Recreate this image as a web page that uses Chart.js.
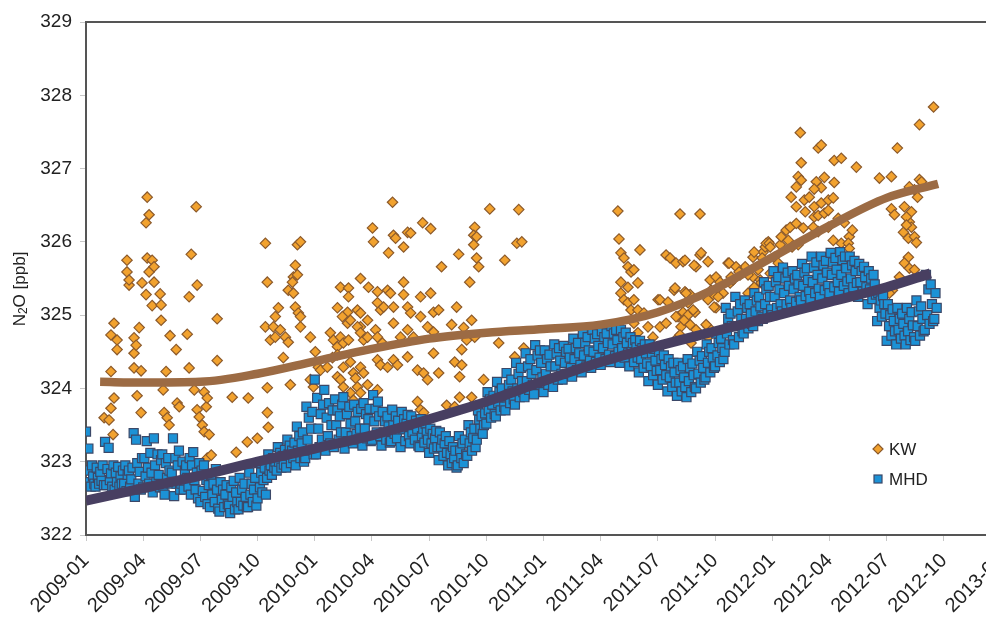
<!DOCTYPE html>
<html>
<head>
<meta charset="utf-8">
<script src="https://cdn.jsdelivr.net/npm/chart.js@4/dist/chart.umd.min.js"></script>
<style>
  html, body { margin: 0; padding: 0; background: #fff; overflow: hidden; width: 986px; height: 620px; }
  #wrap { position: absolute; left: 0; top: 0; width: 1026px; height: 620px; }
</style>
</head>
<body>
<div id="wrap"><canvas id="c" width="1026" height="620"></canvas></div>
<script>
// Quarter tick labels along the time axis (months since 2009-01, step 3)
const xTickLabels = ['2009-01','2009-04','2009-07','2009-10','2010-01','2010-04','2010-07','2010-10',
  '2011-01','2011-04','2011-07','2011-10','2012-01','2012-04','2012-07','2012-10','2013-01'];

// KW samples: [months since 2009-01, N2O ppb]
const kwPoints = [
  [0.95,323.60],[1.21,323.57],[1.31,324.23],[1.31,323.73],[1.31,324.73],[1.42,323.37],[1.47,324.89],[1.47,323.87],
  [1.63,324.66],[1.63,324.53],[2.15,325.75],[2.15,325.59],[2.26,325.41],[2.26,325.48],[2.52,324.69],[2.52,324.48],
  [2.52,324.28],[2.63,324.59],[2.68,323.90],[2.79,324.83],[2.89,323.67],[2.89,324.24],[2.94,325.44],[3.15,326.26],
  [3.15,325.28],[3.21,326.61],[3.21,325.78],[3.31,326.37],[3.31,325.59],[3.47,325.75],[3.47,325.13],[3.57,325.66],
  [3.57,325.45],[3.89,325.29],[3.94,325.14],[3.94,324.93],[4.05,323.98],[4.10,323.67],[4.20,324.23],[4.26,323.60],
  [4.36,323.50],[4.41,324.72],[4.73,324.53],[4.78,323.80],[4.89,323.75],[5.31,324.74],[5.41,325.25],[5.41,324.28],
  [5.52,325.83],[5.68,323.98],[5.78,326.48],[5.83,325.41],[5.83,323.71],[5.94,323.61],[6.10,323.50],[6.20,323.95],
  [6.20,323.41],[6.31,323.75],[6.36,323.87],[6.36,323.05],[6.46,323.37],[6.57,323.09],[6.62,322.75],[6.88,324.95],
  [6.88,324.38],[7.67,323.88],[7.88,323.13],[8.46,323.27],[8.51,323.87],[8.99,323.32],
  [16.08,326.54],[15.03,326.19],[15.08,326.00],[16.13,326.09],[16.24,326.05],[16.87,326.13],[17.03,326.12],[17.66,326.26],
  [18.08,326.18],[16.66,325.93],[15.87,325.85],[9.41,325.98],[11.09,325.96],[11.25,326.00],[9.51,325.45],[10.98,325.68],
  [10.88,325.52],[10.83,325.45],[11.09,325.55],[10.61,325.34],[10.88,325.30],[10.09,325.10],[9.93,324.98],[10.98,325.11],
  [11.14,325.03],[11.25,324.98],[9.41,324.84],[9.83,324.84],[10.19,324.80],[10.46,324.70],[10.61,324.63],[9.67,324.66],
  [9.93,324.70],[11.25,324.84],[11.77,324.70],[10.35,324.42],[9.51,324.01],[10.72,324.05],[9.51,323.67],[9.56,323.47],
  [13.35,325.38],[13.77,325.37],[13.77,325.25],[14.40,325.50],[14.82,325.38],[15.29,325.32],[15.82,325.34],[15.97,325.30],
  [16.66,325.45],[17.55,325.25],[18.08,325.30],[13.19,325.10],[13.72,325.04],[14.24,325.07],[13.45,324.98],[13.72,324.89],
  [13.87,324.93],[14.40,325.03],[14.77,324.93],[14.40,324.84],[15.29,325.17],[15.45,325.07],[15.61,325.11],[16.13,325.11],
  [16.66,325.28],[16.87,325.11],[17.03,325.03],[17.55,324.98],[18.23,325.04],
  [12.82,324.76],[12.98,324.66],[13.19,324.57],[13.35,324.70],[13.50,324.62],[13.77,324.66],[14.24,324.84],[14.40,324.76],
  [14.56,324.66],[14.77,324.70],[15.19,324.80],[15.29,324.70],[15.55,324.62],[16.13,324.89],[16.50,324.70],[16.87,324.80],
  [17.18,324.70],[17.92,324.84],[18.23,324.77],
  [12.03,324.50],[12.19,324.29],[12.30,324.25],[12.66,324.29],[12.93,324.42],[13.19,324.46],[13.50,324.29],[13.87,324.36],
  [14.03,324.21],[14.40,324.29],[14.56,324.21],[15.29,324.39],[15.45,324.32],[15.82,324.29],[16.13,324.39],[16.34,324.32],
  [16.87,324.43],[17.39,324.25],[17.71,324.21],[17.92,324.12],[18.23,324.48],
  [11.77,324.12],[11.93,324.02],[13.19,324.16],[13.35,324.12],[13.50,324.02],[14.14,324.14],[14.24,324.02],[14.40,323.94],
  [14.77,324.05],[15.29,323.98],[13.87,323.94],[14.03,323.84],[17.39,323.82],[17.55,323.71],[17.71,323.67],
  [21.18,326.45],[22.70,326.44],[20.39,326.20],[20.34,326.09],[20.49,326.07],[20.34,325.96],[19.55,325.83],[18.65,325.66],
  [20.49,325.78],[20.60,325.66],[21.97,325.75],[22.60,325.98],[22.86,326.00],[20.13,325.45],[19.44,325.11],[19.18,324.87],
  [19.81,324.83],[20.23,324.93],[19.97,324.66],[20.39,324.70],[19.71,324.53],[21.65,324.62],[19.34,324.36],[19.71,324.32],
  [19.60,324.16],[18.50,324.21],[20.86,324.12],[22.49,324.43],[22.96,324.55],[19.60,323.88],[20.23,323.88],[18.92,323.77],
  [19.34,323.75],[18.50,325.07],
  [27.90,326.42],[27.96,326.04],[29.06,325.89],[28.06,325.85],[28.22,325.78],[28.43,325.66],[28.59,325.59],[28.74,325.62],
  [28.06,325.45],[28.43,325.38],[28.95,325.44],[28.06,325.30],[28.22,325.21],[28.43,325.17],[28.74,325.21],[28.59,325.07],
  [28.95,325.07],[29.27,325.03],[28.74,324.89],[28.95,324.76],[29.48,324.84],[30.43,325.82],[30.64,325.78],[30.95,325.71],
  [31.32,325.73],[31.42,325.75],[30.01,325.21],[30.85,325.34],[31.06,324.98],[31.21,324.84],[31.06,324.70],[31.16,326.38],
  [32.21,326.38],[32.21,325.82],[32.63,325.73],[32.00,325.66],[33.68,325.71],[34.99,325.79],[35.52,325.86],[35.79,326.00],
  [35.63,325.93],[36.42,325.96],[36.73,326.16],[36.94,326.20],[36.99,326.61],
  [30.90,325.37],[31.42,325.32],[31.69,325.28],[30.11,325.21],[30.53,325.18],[30.95,324.98],[31.32,325.04],[31.58,325.00],
  [31.95,325.04],[30.11,324.84],[30.43,324.89],[31.69,324.87],[32.63,324.84],[33.05,325.10],[32.90,325.28],[33.42,325.30],
  [33.79,325.44],[29.74,324.70],[31.16,324.73],
  [32.74,325.48],[33.05,325.52],[33.26,325.45],[33.95,325.48],[34.31,325.55],[34.58,325.66],[34.99,325.52],[35.37,325.48],
  [35.89,325.57],[31.90,325.68],[32.27,325.85],[33.74,325.71],[34.10,325.66],[34.26,325.59],[35.68,325.98],[36.10,325.79],
  [36.31,325.71],[31.48,325.30],[31.58,325.17],[31.85,325.07],[32.63,325.21],[32.95,325.11],[32.79,325.34],[33.16,325.25],
  [33.84,325.52],[34.73,325.55],[35.26,325.62],[31.37,324.93],[32.00,324.80],[32.53,324.87],[31.74,324.62],[32.63,324.70],
  [35.05,325.38],[34.73,325.30],[35.42,325.44],
  [37.47,327.49],[38.41,327.28],[38.57,327.32],[37.52,327.08],[39.25,327.11],[39.62,327.14],[40.41,327.02],[37.36,326.89],
  [37.52,326.84],[37.26,326.75],[38.31,326.82],[38.57,326.74],[38.20,326.72],[38.73,326.88],[39.25,326.81],[37.68,326.57],
  [37.94,326.61],[38.20,326.48],[38.57,326.53],[38.94,326.57],[39.20,326.60],[37.26,326.48],[37.73,326.41],[38.20,326.34],
  [38.41,326.36],[38.73,326.39],[38.94,326.43],[39.46,326.32],[39.78,326.26],[37.26,326.25],[37.63,326.19],[38.15,326.20],
  [38.41,326.14],[38.94,326.20],[39.20,326.02],[39.62,325.98],[40.04,326.07],[36.47,326.07],[36.84,326.02],[37.04,325.93],
  [37.36,325.96],[35.84,325.98],[35.89,325.93],[35.05,325.86],[35.47,325.78],[39.99,325.98],[40.04,325.91],[40.20,326.16],
  [41.62,326.87],[42.25,326.89],[42.56,327.28],[43.72,327.60],[44.46,327.84],[43.72,326.85],[43.19,326.75],[43.46,326.71],
  [42.25,326.45],[42.93,326.48],[43.30,326.41],[42.41,326.37],[43.19,326.27],[43.30,326.20],[42.88,326.13],[43.14,326.05],
  [43.46,326.07],[43.56,325.99],[43.14,325.79],[42.93,325.71],[43.19,325.64],[43.46,325.62],[42.67,325.52],[42.30,325.34],
  [42.14,325.30],[43.83,326.82],[43.62,326.61],[43.04,326.34],[43.04,326.23]
];

// MHD samples: one row per half month starting 2009-01, readings every 1/16 month
const mhdRows = [
  [323.41,322.72,323.18,322.88,322.66,322.95,322.80,322.70],[322.66,322.92,322.78,322.70,322.86,322.74,322.95,322.68],
  [323.27,322.68,322.90,323.19,322.75,322.84,322.66,322.95],[322.62,322.85,322.72,322.93,322.66,322.80,322.70,322.88],
  [322.70,322.95,322.60,322.82,322.88,322.66,322.76,322.92],[323.39,322.52,323.30,322.98,322.70,322.86,322.62,323.05],
  [322.65,323.05,322.80,323.28,322.92,322.70,323.12,322.85],[322.58,323.32,322.95,322.72,323.10,322.82,322.65,323.02],
  [323.10,322.65,322.55,322.98,322.78,323.05,322.88,322.70],[322.85,323.32,322.53,323.05,322.70,322.95,323.15,322.62],
  [322.70,323.00,322.62,322.88,322.95,322.78,322.66,323.05],[322.55,322.95,323.13,322.75,322.62,322.85,322.50,322.98],
  [322.45,322.88,322.60,322.95,322.52,322.75,322.42,322.68],[322.38,322.82,322.55,322.70,322.45,322.90,322.62,322.36],
  [322.32,322.72,322.48,322.62,322.38,322.55,322.68,322.42],[322.40,322.30,322.65,322.52,322.74,322.35,322.58,322.45],
  [322.35,322.78,322.45,322.62,322.40,322.70,322.52,322.38],[322.38,322.85,322.55,322.70,322.45,322.62,322.78,322.40],
  [322.50,322.98,322.65,322.85,322.58,322.75,322.92,322.55],[322.78,323.10,322.88,322.95,322.82,323.05,322.92,323.00],
  [322.88,323.20,323.00,323.12,322.92,323.08,322.96,323.16],[322.92,323.30,323.10,323.22,322.98,323.15,323.05,323.26],
  [322.95,323.48,323.15,323.35,323.05,323.25,323.40,323.00],[323.05,323.75,323.30,323.60,323.15,323.45,323.68,323.10],
  [324.12,323.10,323.87,323.45,323.20,323.65,323.30,323.78],[323.98,323.15,323.60,323.35,323.80,323.25,323.50,323.70],
  [323.20,323.85,323.50,323.70,323.30,323.62,323.40,323.78],[323.88,323.18,323.40,323.65,323.28,323.75,323.52,323.35],
  [323.25,323.78,323.55,323.38,323.68,323.30,323.45,323.72],[323.22,323.80,323.45,323.65,323.32,323.58,323.72,323.28],
  [323.30,323.91,323.55,323.72,323.40,323.82,323.62,323.35],[323.22,323.68,323.40,323.55,323.30,323.62,323.48,323.26],
  [323.28,323.71,323.50,323.38,323.62,323.32,323.56,323.44],[323.20,323.68,323.45,323.58,323.28,323.52,323.64,323.35],
  [323.25,323.62,323.40,323.50,323.30,323.56,323.45,323.22],[323.20,323.58,323.35,323.45,323.26,323.52,323.40,323.30],
  [323.12,323.45,323.25,323.38,323.18,323.32,323.42,323.20],[323.02,323.40,323.20,323.30,323.08,323.25,323.35,323.12],
  [322.95,323.28,323.10,322.98,323.20,323.05,323.15,322.92],[322.95,323.35,323.15,323.05,323.25,322.98,323.30,323.10],
  [323.08,323.50,323.25,323.40,323.15,323.32,323.45,323.20],[323.30,323.70,323.57,323.45,323.62,323.38,323.50,323.66],
  [323.52,323.95,323.70,323.85,323.60,323.78,323.90,323.65],[323.62,324.09,323.80,323.95,323.70,324.00,323.88,323.75],
  [323.70,324.21,323.90,324.05,323.80,324.12,323.96,323.85],[323.78,324.35,324.00,324.20,323.88,324.28,324.10,323.95],
  [323.88,324.48,324.10,324.30,323.98,324.40,324.20,324.05],[323.92,324.59,324.25,324.45,324.05,324.52,324.35,324.15],
  [323.95,324.52,324.20,324.40,324.05,324.46,324.30,324.12],[324.02,324.60,324.30,324.48,324.12,324.55,324.38,324.20],
  [324.12,324.58,324.35,324.50,324.20,324.54,324.42,324.28],[324.16,324.68,324.40,324.55,324.25,324.62,324.48,324.32],
  [324.22,324.75,324.45,324.62,324.30,324.70,324.52,324.38],[324.28,324.80,324.50,324.68,324.36,324.74,324.58,324.42],
  [324.32,324.78,324.55,324.70,324.40,324.75,324.62,324.46],[324.36,324.85,324.60,324.75,324.44,324.80,324.66,324.50],
  [324.35,324.80,324.55,324.70,324.42,324.76,324.62,324.48],[324.30,324.70,324.50,324.62,324.36,324.66,324.56,324.42],
  [324.22,324.65,324.40,324.55,324.28,324.60,324.48,324.34],[324.10,324.60,324.30,324.48,324.18,324.54,324.38,324.24],
  [324.05,324.50,324.25,324.40,324.12,324.45,324.32,324.18],[323.96,324.40,324.15,324.30,324.02,324.35,324.22,324.08],
  [323.90,324.35,324.08,324.25,323.96,324.30,324.15,324.02],[323.88,324.40,324.10,324.28,323.95,324.34,324.18,324.02],
  [324.00,324.50,324.20,324.38,324.08,324.44,324.28,324.12],[324.15,324.60,324.35,324.50,324.22,324.55,324.42,324.28],
  [324.30,324.75,324.45,324.62,324.36,324.68,324.55,324.40],[324.50,325.10,324.75,324.95,324.60,325.02,324.85,324.66],
  [324.60,325.25,324.85,325.05,324.70,325.15,324.95,324.78],[324.75,325.20,324.95,325.10,324.82,325.15,325.02,324.88],
  [324.85,325.30,325.05,325.20,324.92,325.25,325.12,324.98],[324.95,325.45,325.15,325.35,325.02,325.40,325.25,325.08],
  [325.00,325.60,325.25,325.45,325.10,325.52,325.35,325.15],[325.05,325.65,325.30,325.50,325.15,325.58,325.40,325.20],
  [325.10,325.60,325.35,325.50,325.18,325.55,325.42,325.25],[325.20,325.70,325.40,325.58,325.26,325.64,325.48,325.32],
  [325.22,325.80,325.45,325.65,325.30,325.72,325.55,325.36],[325.25,325.80,325.50,325.68,325.34,325.74,325.58,325.40],
  [325.30,325.85,325.55,325.72,325.38,325.78,325.62,325.45],[325.32,325.86,325.55,325.75,325.40,325.80,325.64,325.46],
  [325.30,325.80,325.50,325.68,325.38,325.74,325.60,325.44],[325.25,325.70,325.45,325.60,325.32,325.66,325.52,325.38],
  [325.15,325.60,325.35,325.50,325.22,325.55,325.42,325.28],[324.92,325.30,325.10,325.20,324.98,325.26,325.15,325.02],
  [324.65,325.15,324.85,325.00,324.72,325.08,324.92,324.78],[324.60,325.10,324.80,324.95,324.68,325.02,324.88,324.72],
  [324.60,325.10,324.78,324.95,324.66,325.04,324.86,324.70],[324.65,325.20,324.85,325.05,324.72,325.12,324.95,324.78],
  [324.80,325.55,325.00,325.35,324.88,325.42,325.15,324.92],[324.95,325.30,325.10]
];

// Smoothed trend curves
const kwTrendMonths  = [0.74, 3, 6, 9, 12, 15, 18, 21, 24, 27, 30, 33, 36, 39, 42, 44.7];
const kwTrendValues  = [324.09, 324.08, 324.09, 324.20, 324.37, 324.54, 324.68, 324.76, 324.81, 324.87, 325.04, 325.36, 325.79, 326.22, 326.60, 326.79];
const mhdTrendMonths = [0, 3, 6, 9, 12, 15, 18, 21, 24, 27, 30, 33, 36, 39, 42, 44.3];
const mhdTrendValues = [322.47, 322.64, 322.81, 323.00, 323.18, 323.36, 323.58, 323.82, 324.10, 324.36, 324.58, 324.78, 324.98, 325.18, 325.38, 325.57];

const KW_FILL = '#f2a22e', KW_EDGE = '#8c5a2b', KW_LINE = '#9c6b44';
const MHD_FILL = '#1c92d6', MHD_EDGE = '#3b4868', MHD_LINE = '#483f61';
const FONT = "'Liberation Sans', Arial, sans-serif";
const MHD_STEP = 1 / 16;

const kwData = kwPoints.map(p => ({ x: p[0], y: p[1] }));
const mhdData = [];
mhdRows.forEach((row, i) => row.forEach((v, j) => mhdData.push({ x: i * 0.5 + j * MHD_STEP, y: v })));
const kwTrend = kwTrendMonths.map((m, i) => ({ x: m, y: kwTrendValues[i] }));
const mhdTrend = mhdTrendMonths.map((m, i) => ({ x: m, y: mhdTrendValues[i] }));

// Top frame line, rotated y title with subscript, in-plot legend
const decorations = {
  id: 'decorations',
  afterDraw(chart) {
    const { ctx, chartArea: ca } = chart;
    ctx.save();
    ctx.strokeStyle = '#555';
    ctx.lineWidth = 2;
    ctx.beginPath();
    ctx.moveTo(ca.left - 1, ca.top);
    ctx.lineTo(chart.width, ca.top);
    ctx.stroke();

    // y-axis title: N2O [ppb]
    ctx.translate(20, ca.top + 267);
    ctx.rotate(-Math.PI / 2);
    ctx.fillStyle = '#222';
    ctx.textBaseline = 'middle';
    const big = '17px ' + FONT, small = '12px ' + FONT;
    ctx.font = big;
    const wN = ctx.measureText('N').width;
    const wRest = ctx.measureText('O [ppb]').width;
    ctx.font = small;
    const w2 = ctx.measureText('2').width;
    let x = -(wN + w2 + wRest) / 2;
    ctx.textAlign = 'left';
    ctx.font = big; ctx.fillText('N', x, 0); x += wN;
    ctx.font = small; ctx.fillText('2', x, 4); x += w2;
    ctx.font = big; ctx.fillText('O [ppb]', x, 0);
    ctx.restore();

    // legend
    ctx.save();
    const lx = ca.left + 792, ly1 = ca.top + 427, ly2 = ca.top + 457;
    ctx.lineWidth = 1.2;
    ctx.fillStyle = KW_FILL; ctx.strokeStyle = KW_EDGE;
    ctx.beginPath();
    ctx.moveTo(lx, ly1 - 5); ctx.lineTo(lx + 5, ly1); ctx.lineTo(lx, ly1 + 5); ctx.lineTo(lx - 5, ly1); ctx.closePath();
    ctx.fill(); ctx.stroke();
    ctx.fillStyle = MHD_FILL; ctx.strokeStyle = MHD_EDGE;
    ctx.fillRect(lx - 4, ly2 - 4, 8, 8); ctx.strokeRect(lx - 4, ly2 - 4, 8, 8);
    ctx.fillStyle = '#222';
    ctx.font = '17px ' + FONT;
    ctx.textAlign = 'left';
    ctx.textBaseline = 'middle';
    ctx.fillText('KW', lx + 11, ly1 + 1);
    ctx.fillText('MHD', lx + 11, ly2 + 1);
    ctx.restore();
  }
};

new Chart(document.getElementById('c'), {
  type: 'scatter',
  data: {
    datasets: [
      { label: 'MHD trend', type: 'line', data: mhdTrend, borderColor: MHD_LINE, borderWidth: 10,
        pointRadius: 0, cubicInterpolationMode: 'monotone', fill: false, order: 0 },
      { label: 'KW trend', type: 'line', data: kwTrend, borderColor: KW_LINE, borderWidth: 8.5,
        pointRadius: 0, cubicInterpolationMode: 'monotone', fill: false, order: 1 },
      { label: 'MHD', data: mhdData, pointStyle: 'rect', pointRadius: 6.4, backgroundColor: MHD_FILL,
        borderColor: MHD_EDGE, borderWidth: 1.2, order: 2 },
      { label: 'KW', data: kwData, pointStyle: 'rectRot', pointRadius: 5.2, backgroundColor: KW_FILL,
        borderColor: KW_EDGE, borderWidth: 1.2, order: 3 }
    ]
  },
  options: {
    responsive: false,
    animation: false,
    devicePixelRatio: 1,
    layout: { padding: { top: 22, left: 0, right: 0, bottom: 0 } },
    plugins: { legend: { display: false }, tooltip: { enabled: false } },
    scales: {
      x: {
        type: 'linear', min: 0, max: 48,
        afterFit: s => { s.height = 85; },
        afterBuildTicks: s => { s.ticks = xTickLabels.map((_, i) => ({ value: i * 3 })); },
        ticks: { autoSkip: false, maxRotation: 45, minRotation: 45, padding: 8, color: '#222',
          font: { family: FONT, size: 20 }, callback: v => xTickLabels[v / 3] },
        grid: { drawOnChartArea: false, drawTicks: true, tickLength: 6, color: '#c8c8c8' },
        border: { display: true, color: '#555', width: 2 }
      },
      y: {
        min: 322, max: 329,
        afterFit: s => { s.width = 86; },
        ticks: { stepSize: 1, padding: 8, color: '#222', font: { family: FONT, size: 19 } },
        grid: { drawOnChartArea: false, drawTicks: true, tickLength: 6, color: '#c8c8c8' },
        border: { display: true, color: '#555', width: 2 }
      }
    }
  },
  plugins: [decorations]
});
</script>
</body>
</html>
